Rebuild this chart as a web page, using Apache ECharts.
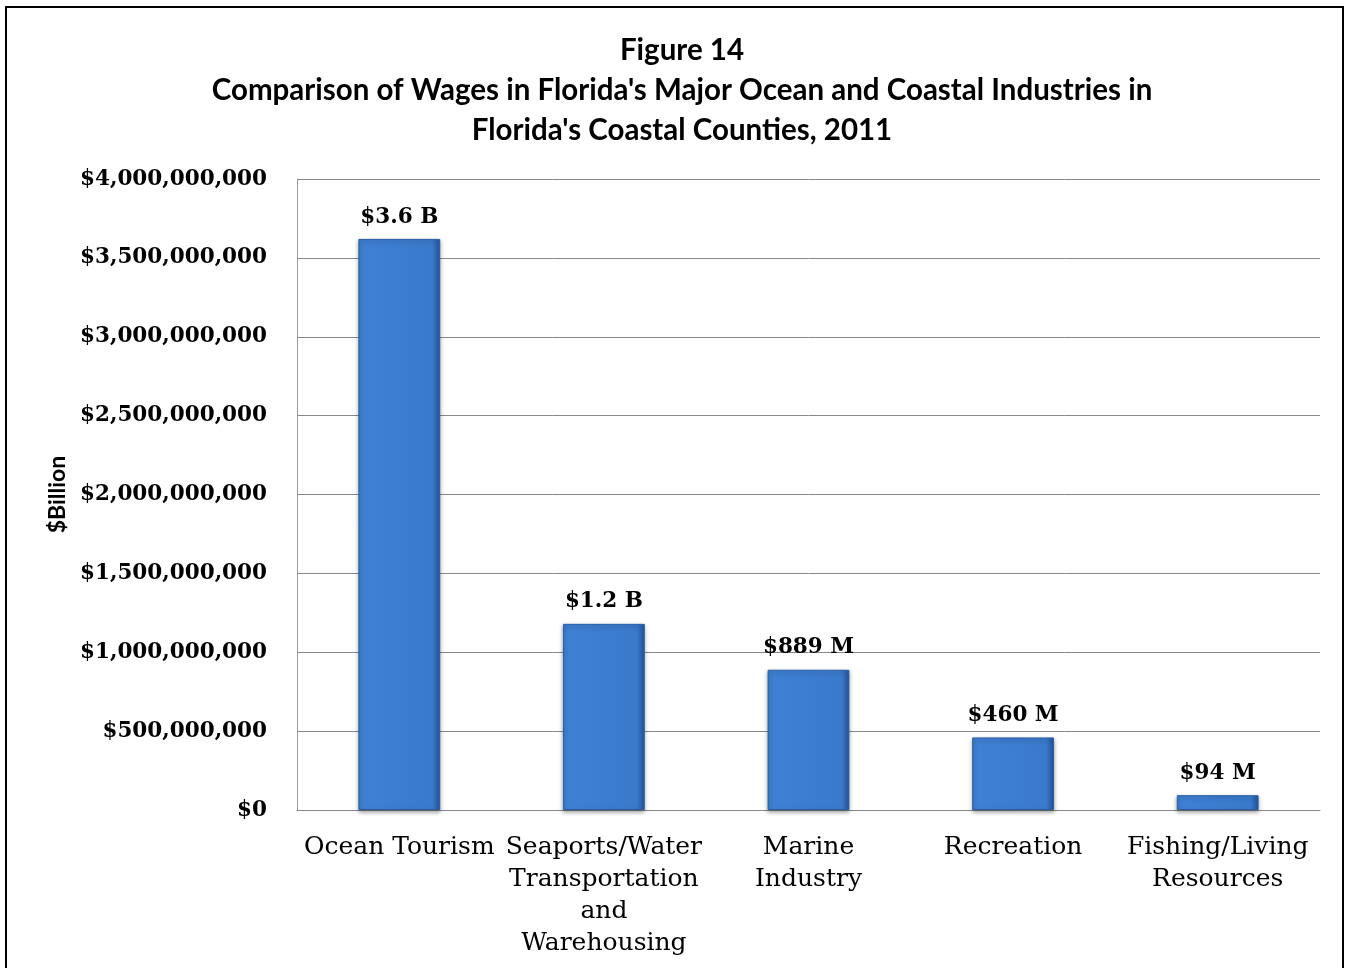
<!DOCTYPE html>
<html>
<head>
<meta charset="utf-8">
<script src="https://cdn.jsdelivr.net/npm/echarts@6/dist/echarts.min.js"></script>
<style>
  html, body { margin: 0; padding: 0; background: #fff; }
  #chart { width: 1351px; height: 968px; }
</style>
</head>
<body>
<div id="chart"></div>
<script>
// Industry categories along the x axis
const categories = [
  'Ocean Tourism',
  'Seaports/Water\nTransportation\nand\nWarehousing',
  'Marine\nIndustry',
  'Recreation',
  'Fishing/Living\nResources'
];
// 2011 wages, in dollars
const wages = [3620000000, 1180000000, 889000000, 460000000, 94000000];
// Y axis ticks
const yMin = 0;
const yMax = 4000000000;
const yStep = 500000000;

const titleLines = [
  'Figure 14',
  "Comparison of Wages in Florida's Major Ocean and Coastal Industries in",
  "Florida's Coastal Counties, 2011"
];

function money(v) {
  return '$' + Number(v).toLocaleString('en-US');
}
function shortMoney(v) {
  if (v >= 1e9) return '$' + (v / 1e9).toFixed(1) + ' B';
  return '$' + Math.round(v / 1e6) + ' M';
}

const serif = '"DejaVu Serif", "Liberation Serif", serif';
const sans = 'Lato, "Open Sans", sans-serif';

const chart = echarts.init(document.getElementById('chart'), null, { renderer: 'canvas' });

chart.setOption({
  backgroundColor: '#ffffff',
  animation: false,
  title: {
    text: titleLines.join('\n'),
    left: 677,
    top: 25,
    textAlign: 'center',
    textStyle: {
      fontFamily: sans,
      fontWeight: 'bold',
      fontSize: 29.5,
      lineHeight: 40,
      color: '#000'
    }
  },
  graphic: [{
    type: 'rect',
    shape: { x: 6, y: 7, width: 1337, height: 1000 },
    style: { fill: 'none', stroke: '#000', lineWidth: 2 },
    silent: true
  }],
  grid: { left: 297, right: 31, top: 179, bottom: 158, containLabel: false },
  xAxis: {
    type: 'category',
    data: categories,
    axisLine: { show: true, lineStyle: { color: '#888', width: 1 } },
    axisTick: { show: false },
    axisLabel: {
      interval: 0,
      margin: 21,
      fontFamily: serif,
      fontSize: 25,
      lineHeight: 32,
      color: '#000',
      align: 'center'
    }
  },
  yAxis: {
    type: 'value',
    min: yMin,
    max: yMax,
    interval: yStep,
    name: '$Billion',
    nameLocation: 'middle',
    nameGap: 226,
    nameRotate: 90,
    nameTextStyle: {
      fontFamily: sans,
      fontWeight: 'bold',
      fontSize: 23,
      color: '#000'
    },
    axisLine: { show: true, lineStyle: { color: '#999', width: 1 } },
    axisTick: { show: false },
    splitLine: { show: true, lineStyle: { color: '#888', width: 1 } },
    axisLabel: {
      formatter: money,
      margin: 30,
      fontFamily: serif,
      fontWeight: 'bold',
      fontSize: 21.5,
      color: '#000'
    }
  },
  series: [{
    type: 'bar',
    data: wages,
    barWidth: '40%',
    itemStyle: {
      // bevelled look: lighter left edge, darker right edge
      color: {
        type: 'linear', x: 0, y: 0, x2: 1, y2: 0,
        colorStops: [
          { offset: 0, color: '#3a7fc8' },
          { offset: 0.08, color: '#3f80d4' },
          { offset: 0.5, color: '#3c7dd0' },
          { offset: 0.9, color: '#3a7acc' },
          { offset: 1, color: '#24569c' }
        ]
      },
      borderColor: '#2a5fa8',
      borderWidth: 1,
      shadowColor: 'rgba(0,0,0,0.35)',
      shadowBlur: 4,
      shadowOffsetY: 2
    },
    label: {
      show: true,
      position: 'top',
      distance: 11,
      formatter: p => shortMoney(p.value),
      fontFamily: serif,
      fontWeight: 'bold',
      fontSize: 21.5,
      color: '#000'
    }
  }]
});
</script>
</body>
</html>
